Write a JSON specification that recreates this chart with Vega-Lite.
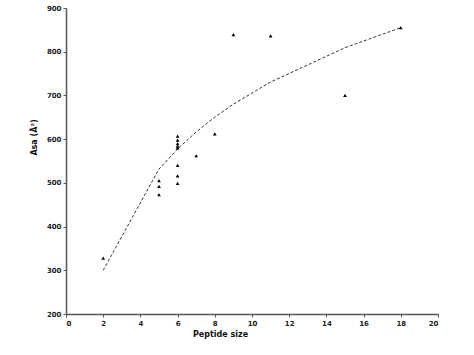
{
  "$schema": "https://vega.github.io/schema/vega-lite/v6.json",
  "width": 372,
  "height": 306,
  "autosize": "none",
  "padding": {"left": 66, "top": 8, "right": 36, "bottom": 41},
  "background": "white",
  "config": {
    "view": {"stroke": null},
    "axis": {
      "grid": false,
      "domainColor": "#555555",
      "domainWidth": 1.5,
      "tickColor": "#555555",
      "tickSize": 3,
      "labelFont": "DejaVu Sans",
      "labelFontWeight": "bold",
      "labelFontSize": 7,
      "labelColor": "#222222",
      "titleFont": "DejaVu Sans",
      "titleFontWeight": "bold",
      "titleFontSize": 8,
      "titleColor": "#111111"
    }
  },
  "datasets": {
    "obs": [
      {"size": 2, "asa": 328},
      {"size": 5, "asa": 505},
      {"size": 5, "asa": 492},
      {"size": 5, "asa": 473},
      {"size": 6, "asa": 607},
      {"size": 6, "asa": 598},
      {"size": 6, "asa": 590},
      {"size": 6, "asa": 584},
      {"size": 6, "asa": 580},
      {"size": 6, "asa": 540},
      {"size": 6, "asa": 516},
      {"size": 6, "asa": 499},
      {"size": 7, "asa": 562},
      {"size": 8, "asa": 612},
      {"size": 9, "asa": 839},
      {"size": 11, "asa": 836},
      {"size": 15, "asa": 700},
      {"size": 18, "asa": 855}
    ],
    "fit": [
      {"size": 2, "asa": 300},
      {"size": 5, "asa": 531.6},
      {"size": 6, "asa": 577.6},
      {"size": 7, "asa": 616.5},
      {"size": 8, "asa": 650.3},
      {"size": 9, "asa": 680.0},
      {"size": 11, "asa": 730.7},
      {"size": 15, "asa": 809.1},
      {"size": 18, "asa": 855}
    ]
  },
  "encoding": {
    "x": {
      "field": "size", "type": "quantitative",
      "scale": {"domain": [0, 20], "nice": false},
      "axis": {"values": [0,2,4,6,8,10,12,14,16,18,20], "title": "Peptide size", "titleX": 154, "titlePadding": 4, "labelPadding": 2}
    },
    "y": {
      "field": "asa", "type": "quantitative",
      "scale": {"domain": [200, 900], "nice": false, "zero": false},
      "axis": {"values": [200,300,400,500,600,700,800,900], "title": "Asa (Å²)", "titleY": 129, "titlePadding": 8, "labelPadding": 2}
    }
  },
  "layer": [
    {
      "data": {"name": "fit"},
      "mark": {"type": "line", "color": "#333333", "strokeWidth": 1, "strokeDash": [3, 2]}
    },
    {
      "data": {"name": "obs"},
      "mark": {"type": "point", "shape": "triangle-up", "filled": true, "color": "black", "opacity": 1, "size": 14}
    }
  ]
}
